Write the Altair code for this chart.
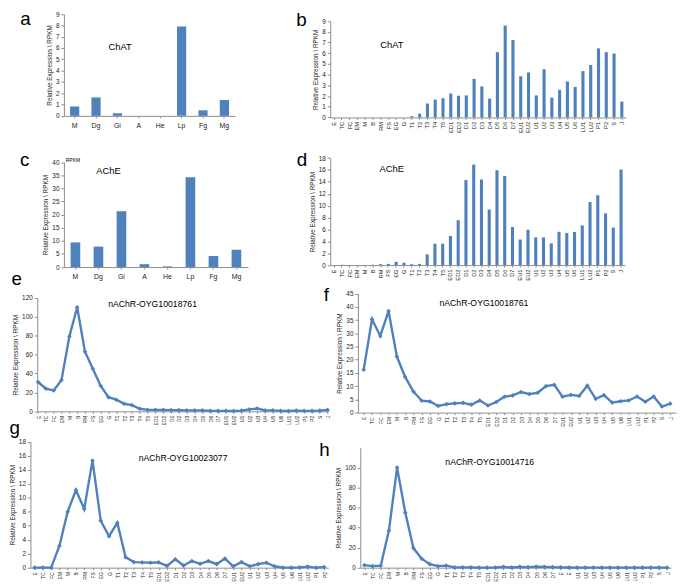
import altair as alt
import pandas as pd

# ---------------- data ----------------
tissues = ["M", "Dg", "Gi", "A", "He", "Lp", "Fg", "Mg"]
stages = ["E", "TC", "FC", "EM", "M", "B", "RM", "FS", "EG", "G",
          "T1", "T2", "T3", "T4", "T5", "ED1", "ED2",
          "D1", "D2", "D3", "D4", "D5", "D6", "D7",
          "EU1", "EU2", "U1", "U2", "U3", "U4", "U5", "U6",
          "LU1", "LU2", "P1", "P2", "S", "J"]
stages_g = stages[:36]

chat_tissue = [0.83, 1.63, 0.23, 0, 0, 7.9, 0.49, 1.4]
ache_tissue = [9.4, 7.8, 21.3, 1.1, 0.25, 34.3, 4.2, 6.6]
chat_stage = [0, 0, 0, 0, 0, 0, 0, 0, 0, 0,
              0.12, 0.36, 1.3, 1.67, 1.79, 2.24, 2.03,
              2.06, 3.6, 2.9, 1.76, 6.1, 8.58, 7.24,
              3.85, 4.2, 2.06, 4.5, 1.85, 2.58, 3.36, 2.85,
              4.33, 4.9, 6.45, 6.1, 5.97, 1.48]
ache_stage = [0, 0.05, 0, 0, 0, 0.05, 0.15, 0.2, 0.55, 0.4,
              0.15, 0.2, 1.8, 3.6, 3.6, 4.9, 7.55,
              14.3, 16.9, 14.4, 9.35, 15.95, 15.0, 6.4,
              4.3, 5.95, 4.65, 4.65, 3.66, 5.6, 5.4, 5.57,
              6.67, 10.6, 11.75, 8.7, 6.3, 16.07]
nachr_e = [31, 24, 22, 33, 79, 110, 63, 45, 27, 15,
           12.3, 8, 6.5, 2.7, 1.5, 1.5, 1.5,
           1.3, 1.3, 1, 1, 1, 0.5, 0.5,
           0.5, 0.3, 0.8, 2, 3, 1, 1, 0.5,
           0.3, 0.8, 0.5, 0.5, 0.8, 1.5]
nachr_f = [16.2, 35.3, 29, 38.4, 21.2, 13.5, 8, 4.5, 4.2, 2.5,
           3.2, 3.5, 3.7, 3.0, 4.6, 2.7, 4.0,
           6.0, 6.5, 7.8, 7.0, 7.5, 10.0, 10.5,
           6.0, 6.7, 6.3, 10.2, 5.2, 6.6, 3.8, 4.3,
           4.6, 6.1, 4.1, 6.1, 2.3, 3.4]
nachr_g = [0, 0, 0, 3.1, 8, 11.1, 8.4, 15.3, 6.7, 4.5,
           6.4, 1.5, 0.8, 0.75, 0.7, 0.75, 0.25,
           1.2, 0.3, 0.95, 0.55, 0.95, 0.5, 1.3,
           0.2, 0.8, 0.2, 0.5, 0.7, 0.2, 0.0, 0.0,
           0.05, 0.15, 0.0, 0.1]
nachr_h = [2.5, 1.5, 2, 37, 100, 55, 19.5, 9, 3.5, 1.5,
           2, 0.3, 0.3, 0.3, 0, 0, 0.2,
           0.8, 0.2, 0.8, 0.5, 1.0, 0.8, 0.6,
           0.3, 0.2, 0.1, 0.1, 0.1, 0.1, 0.1, 0.1,
           0.1, 0.1, 0.1, 0.1, 0.1, 0.1]

YTITLE = "Relative Expression \\ RPKM"
BLUE = "#4F81BD"
FONT = "Liberation Sans"

# ---------------- layout helpers ----------------
W, H = 677, 578


def X(p):
    return round(p * W / 685.0, 1)


def Y(p):
    return round(p * H / 587.0, 1)


def yaxis(x0, values, label_size=6.5):
    return alt.Axis(orient="left", offset=-X(x0), values=values, title=YTITLE,
                    titleFontSize=6.5, titlePadding=3, labelFontSize=label_size,
                    labelPadding=2, tickSize=3, grid=False)


def bar_panel(cats, vals, x0, x1, y0, y1, dom, ticks, pin, rotated):
    df = pd.DataFrame({"cat": cats, "val": vals})
    if rotated:
        xax = alt.Axis(orient="bottom", offset=Y(y0) - H, title=None, labelAngle=-90,
                       labelFontSize=5.8, labelPadding=2, tickSize=2,
                       labelOverlap=False, grid=False)
    else:
        xax = alt.Axis(orient="bottom", offset=Y(y0) - H, title=None, labelAngle=0,
                       labelFontSize=7, labelPadding=4, tickSize=2,
                       labelOverlap=False, grid=False)
    return alt.Chart(df).mark_bar(color=BLUE).encode(
        x=alt.X("cat:N", sort=cats,
                scale=alt.Scale(type="band", range=[X(x0), X(x1)],
                                paddingInner=pin, paddingOuter=pin / 2),
                axis=xax),
        y=alt.Y("val:Q",
                scale=alt.Scale(domain=dom, range=[Y(y0), Y(y1)], nice=False, zero=True),
                axis=yaxis(x0, ticks)),
    )


def line_panel(cats, vals, x0, x1, pad, y0, y1, ax_x, dom, ticks, label_expr=None):
    df = pd.DataFrame({"cat": cats, "val": vals})
    kw = dict(orient="bottom", offset=Y(y0) - H, title=None, labelAngle=-90,
              labelFontSize=5, labelPadding=2, tickSize=2,
              labelOverlap=False, grid=False)
    if label_expr:
        kw["labelExpr"] = label_expr
    return alt.Chart(df).mark_line(
        color=BLUE, strokeWidth=2.4,
        point=alt.OverlayMarkDef(shape="diamond", size=22, filled=True, color=BLUE),
    ).encode(
        x=alt.X("cat:N", sort=cats,
                scale=alt.Scale(type="point", range=[X(x0), X(x1)], padding=pad),
                axis=alt.Axis(**kw)),
        y=alt.Y("val:Q",
                scale=alt.Scale(domain=dom, range=[Y(y0), Y(y1)], nice=False, zero=True),
                axis=yaxis(ax_x, ticks)),
    )


def txt(s, cx, cy, size, baseline="middle"):
    return alt.Chart(alt.Data(values=[{}])).mark_text(
        text=s, fontSize=size, font=FONT, align="center", baseline=baseline, color="black"
    ).encode(x=alt.value(X(cx)), y=alt.value(Y(cy)))


layers = [
    bar_panel(tissues, chat_tissue, 57.3, 232.5, 107.3, 2.7, [0, 9], list(range(0, 10)), 0.57, False),
    bar_panel(stages, chat_stage, 330, 632.5, 109, 10, [0, 9], list(range(0, 10)), 0.6, True),
    bar_panel(tissues, ache_tissue, 57.3, 245.7, 262.7, 155, [0, 40], list(range(0, 41, 5)), 0.58, False),
    bar_panel(stages, ache_stage, 330, 631.7, 260.7, 150.7, [0, 18], list(range(0, 19, 2)), 0.6, True),
    line_panel(stages, nachr_e, 30, 328, 0.1, 411, 294.3, 30, [0, 120], list(range(0, 121, 20))),
    line_panel(stages, nachr_f, 358.3, 684, 0.7, 412.3, 290, 358.3, [0, 45], list(range(0, 46, 5))),
    line_panel(stages_g, nachr_g, 23, 328, 0.5, 571.7, 442.3, 23, [0, 18], list(range(0, 19, 2))),
    line_panel(stages, nachr_h, 360.7, 679, 0.5, 571.7, 448.3, 360.7, [0, 120], list(range(0, 101, 20)),
               label_expr="(datum.label == 'EU1' || datum.label == 'EU2') ? 'E' : datum.label"),
    # panel titles
    txt("ChAT", 114.7, 37, 9.5),
    txt("ChAT", 393, 34.5, 9.5),
    txt("AChE", 103, 164, 9.5),
    txt("RPKM", 66.5, 152.5, 5),
    txt("AChE", 393, 161.7, 9.5),
    txt("nAChR-OYG10018761", 148, 300.5, 8.8),
    txt("nAChR-OYG10018761", 487.3, 299.5, 8.8),
    txt("nAChR-OYG10023077", 179.3, 459.3, 8.8),
    txt("nAChR-OYG10014716", 493.3, 463.3, 8.8),
    # panel letters
    txt("a", 18, 13.5, 19, "alphabetic"),
    txt("b", 300.5, 15, 19, "alphabetic"),
    txt("c", 17, 158.5, 19, "alphabetic"),
    txt("d", 301, 159, 19, "alphabetic"),
    txt("e", 9, 281, 19, "alphabetic"),
    txt("f", 326, 298, 19, "alphabetic"),
    txt("g", 7, 434, 19, "alphabetic"),
    txt("h", 324, 457, 19, "alphabetic"),
]

chart = alt.layer(*layers).resolve_scale(
    x="independent", y="independent"
).resolve_axis(
    x="independent", y="independent"
).properties(
    width=W, height=H, padding=0,
    autosize=alt.AutoSizeParams(type="none"),
).configure_view(
    stroke=None
).configure_axis(
    domainColor="#8c8c8c", tickColor="#8c8c8c", labelColor="#222222",
    titleColor="#222222", titleFontWeight="normal", labelFont=FONT, titleFont=FONT,
    domainWidth=1,
)

chart.save("out.html", embed_options={"renderer": "svg", "actions": False})
